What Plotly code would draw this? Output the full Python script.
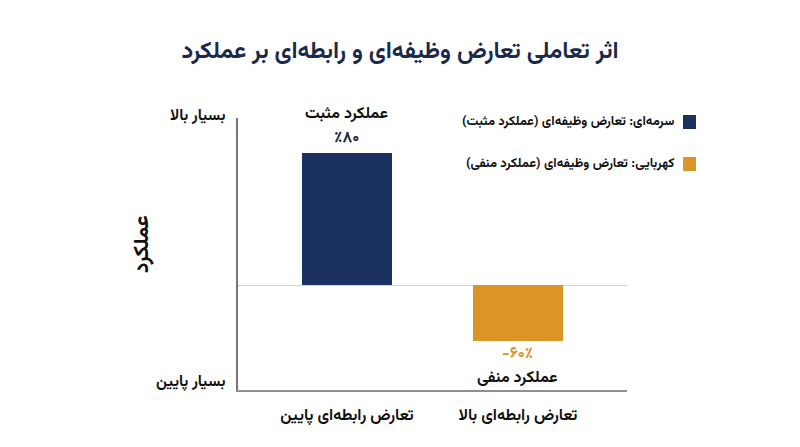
import plotly.graph_objects as go

RLM = "\u200f"

# ---- data ----
categories = ["تعارض رابطه‌ای پایین", "تعارض رابطه‌ای بالا"]
bar_values = [80, -34]          # bar heights (axis units)
value_labels = ["٪۸۰", "-۶۰٪"]
outcome_labels = ["عملکرد مثبت", "عملکرد منفی"]
bar_colors = ["#1b3260", "#dc9427"]
y_tick_labels = ["بسیار بالا", "بسیار پایین"]
legend_labels = ["سرمه‌ای: تعارض وظیفه‌ای (عملکرد مثبت)",
                 "کهربایی: تعارض وظیفه‌ای (عملکرد منفی)"]
title_text = "اثر تعاملی تعارض وظیفه‌ای و رابطه‌ای بر عملکرد"
y_title = "عملکرد"

FONT = "Vazirmatn, 'Noto Sans Arabic', 'DejaVu Sans', sans-serif"
NAVY_TXT = "#1b2a4a"
BLACK = "#111111"

# plot-area geometry (pixels)
L, R, T, B = 238, 627, 118, 390
W, H = R - L, B - T


def px(xp):
    return (xp - L) / W


def py(yp):
    return (B - yp) / H


x_pos = list(range(len(categories)))

fig = go.Figure()
fig.add_trace(go.Bar(
    x=x_pos, y=bar_values, width=0.53,
    marker=dict(color=bar_colors, line=dict(width=0)),
    showlegend=False, hoverinfo="skip",
))

annotations = []
for xi, v, vl, ol, c in zip(x_pos, bar_values, value_labels, outcome_labels, bar_colors):
    vcol = NAVY_TXT if v >= 0 else c
    v_shift = 14 if v >= 0 else -13
    o_shift = 38 if v >= 0 else -37
    annotations.append(dict(x=xi, y=v, xref="x", yref="y", text=f"<b>{vl}</b>",
                            showarrow=False, xanchor="center", yanchor="middle", yshift=v_shift,
                            font=dict(size=16, color=vcol, family=FONT)))
    annotations.append(dict(x=xi, y=v, xref="x", yref="y", text=f"<b>{RLM}{ol}{RLM}</b>",
                            showarrow=False, xanchor="center", yanchor="middle", yshift=o_shift,
                            font=dict(size=16, color=BLACK, family=FONT)))

# y-axis end labels
for lab, yy in zip(y_tick_labels, [116, 382]):
    annotations.append(dict(x=px(228), y=py(yy), xref="paper", yref="paper",
                            text=f"<b>{RLM}{lab}{RLM}</b>", showarrow=False,
                            xanchor="right", yanchor="middle",
                            font=dict(size=15.5, color=BLACK, family=FONT)))

# y-axis title
annotations.append(dict(x=px(142), y=py(244), xref="paper", yref="paper",
                        text=f"<b>{y_title}</b>", showarrow=False, textangle=-90,
                        xanchor="center", yanchor="middle",
                        font=dict(size=21, color=BLACK, family=FONT)))

# legend (manual, symbol on the right)
shapes = []
for lab, c, ly in zip(legend_labels, bar_colors, [122, 164]):
    annotations.append(dict(x=px(676), y=py(ly), xref="paper", yref="paper",
                            text=f"<b>{RLM}{lab}{RLM}</b>", showarrow=False,
                            xanchor="right", yanchor="middle",
                            font=dict(size=13, color=BLACK, family=FONT)))
    shapes.append(dict(type="rect", xref="paper", yref="paper",
                       x0=px(683), x1=px(696), y0=py(ly + 7), y1=py(ly - 7),
                       fillcolor=c, line=dict(width=0)))

fig.update_layout(
    width=800, height=447,
    margin=dict(l=L, r=800 - R, t=T, b=447 - B),
    paper_bgcolor="white", plot_bgcolor="white",
    title=dict(text=f"<b>{title_text}</b>", x=0.5, xanchor="center",
               y=1 - 50 / 447, yanchor="middle",
               font=dict(size=23.5, color=NAVY_TXT, family=FONT)),
    font=dict(family=FONT, color=BLACK),
    annotations=annotations,
    shapes=shapes,
    bargap=0,
)
fig.update_xaxes(
    range=[-0.637, 1.638], tickvals=x_pos,
    ticktext=[f"<b>{RLM}{c}{RLM}</b>" for c in categories],
    tickfont=dict(size=16, color=BLACK, family=FONT),
    showline=True, linecolor="#8f8f8f", linewidth=1.5,
    ticks="outside", ticklen=9, tickcolor="rgba(0,0,0,0)",
    showgrid=False, zeroline=False, fixedrange=True,
)
fig.update_yaxes(
    range=[-63.6, 101.2], showticklabels=False, ticks="",
    showline=True, linecolor="#777777", linewidth=1.5,
    showgrid=False, zeroline=True, zerolinecolor="#d4d4d4", zerolinewidth=1,
    fixedrange=True,
)

fig.write_html("out.html", config={"displayModeBar": False},
               post_script="document.body.style.margin='0';document.body.style.padding='0';")
